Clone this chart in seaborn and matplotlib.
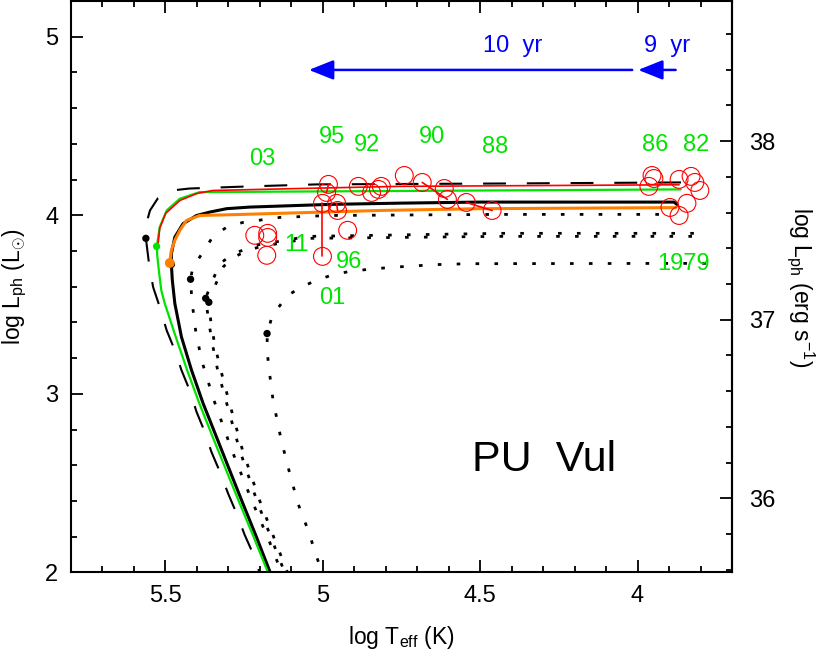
import seaborn as sns
import matplotlib.pyplot as plt
from matplotlib.ticker import MultipleLocator

# ---- data (log Teff, log L in Lsun) ----
# long-dashed model track
dash_T = [3.862, 4.439, 5.020, 5.232, 5.423, 5.480, 5.524, 5.549, 5.562, 5.562,
          5.552, 5.539, 5.518, 5.496, 5.470, 5.449, 5.423, 5.401, 5.375, 5.354,
          5.327, 5.301, 5.274, 5.248, 5.222, 5.201]
dash_L = [4.184, 4.178, 4.173, 4.162, 4.150, 4.139, 4.095, 4.027, 3.944, 3.871,
          3.729, 3.598, 3.487, 3.356, 3.244, 3.133, 3.021, 2.899, 2.787, 2.676,
          2.564, 2.443, 2.331, 2.210, 2.107, 2.000]

# green model track
green_T = [3.863, 5.391, 5.454, 5.496, 5.518, 5.527, 5.526, 5.519, 5.513, 5.502,
           5.467, 5.431, 5.392, 5.350, 5.307, 5.264, 5.220, 5.174]
green_L = [4.145, 4.130, 4.093, 4.027, 3.934, 3.830, 3.776, 3.664, 3.580, 3.506,
           3.319, 3.133, 2.946, 2.760, 2.573, 2.387, 2.200, 2.000]

# black solid model track
black_T = [3.875, 3.884, 4.503, 4.757, 4.979, 5.232, 5.306, 5.359, 5.401, 5.444,
           5.470, 5.481, 5.481, 5.478, 5.470, 5.449, 5.417, 5.380, 5.338, 5.296,
           5.254, 5.211, 5.167]
black_L = [4.061, 4.074, 4.074, 4.068, 4.061, 4.046, 4.037, 4.018, 3.999, 3.953,
           3.878, 3.785, 3.725, 3.636, 3.506, 3.319, 3.133, 2.946, 2.760, 2.573,
           2.387, 2.200, 2.000]

# orange track
orange_T = [3.879, 4.503, 4.820, 5.296, 5.391, 5.433, 5.454, 5.470, 5.481, 5.486]
orange_L = [4.043, 4.037, 4.027, 4.003, 3.999, 3.971, 3.916, 3.860, 3.804, 3.733]

# red track
red_T = [3.868, 4.757, 5.074, 5.350, 5.400, 5.454, 5.499, 5.518, 5.524]
red_L = [4.171, 4.162, 4.150, 4.139, 4.122, 4.083, 4.011, 3.927, 3.826]

# dotted model tracks
dot1_T = [3.932, 4.439, 4.979, 5.137, 5.254, 5.305, 5.350, 5.391, 5.413, 5.420,
          5.416, 5.404, 5.385, 5.346, 5.289, 5.226, 5.169, 5.131]
dot1_L = [4.005, 4.005, 3.999, 3.988, 3.960, 3.934, 3.878, 3.766, 3.710, 3.642,
          3.524, 3.356, 3.188, 2.965, 2.685, 2.405, 2.171, 2.000]

dot2_T = [3.821, 4.439, 5.042, 5.083, 5.137, 5.191, 5.239, 5.280, 5.327, 5.359,
          5.372, 5.365, 5.353, 5.334, 5.308, 5.264, 5.210, 5.159, 5.121]
dot2_L = [3.899, 3.899, 3.882, 3.871, 3.854, 3.843, 3.815, 3.787, 3.731, 3.597,
          3.535, 3.440, 3.300, 3.133, 2.965, 2.685, 2.405, 2.171, 2.000]

dot3_T = [3.827, 4.439, 5.042, 5.137, 5.194, 5.239, 5.277, 5.315, 5.346, 5.362,
          5.356, 5.343, 5.324, 5.299, 5.255, 5.201, 5.150, 5.112]
dot3_L = [3.882, 3.882, 3.871, 3.843, 3.826, 3.804, 3.770, 3.714, 3.591, 3.513,
          3.412, 3.272, 3.133, 2.965, 2.685, 2.405, 2.171, 2.000]

dot4_T = [3.783, 4.535, 4.640, 4.735, 4.836, 4.915, 4.973, 5.021, 5.068, 5.111,
          5.148, 5.163, 5.177, 5.176, 5.169, 5.158, 5.132, 5.105, 5.079, 5.047,
          5.016, 5.002]
dot4_L = [3.731, 3.729, 3.724, 3.714, 3.701, 3.686, 3.664, 3.636, 3.598, 3.552,
          3.468, 3.422, 3.338, 3.226, 3.114, 2.965, 2.741, 2.555, 2.387, 2.238,
          2.070, 2.000]

# end points of the tracks
end_T = [5.562, 5.420, 5.372, 5.362, 5.177, 5.481]
end_L = [3.871, 3.642, 3.535, 3.513, 3.338, 3.725]
green_end = (5.528, 3.826)
orange_end = (5.486, 3.733)

# observed positions (open red circles)
obs_T = [4.982, 4.988, 5.001, 4.956, 4.953, 5.001, 4.921, 4.887, 4.845, 4.823,
         4.814, 4.741, 4.684, 4.614, 4.604, 4.544, 4.462, 5.216, 5.175, 5.175,
         5.178, 3.954, 3.948, 3.964, 3.868, 3.830, 3.818, 3.802, 3.843, 3.897,
         3.868]
obs_L = [4.173, 4.128, 4.067, 4.067, 4.027, 3.770, 3.916, 4.162, 4.128, 4.145,
         4.162, 4.223, 4.184, 4.150, 4.089, 4.072, 4.027, 3.888, 3.899, 3.876,
         3.776, 4.223, 4.206, 4.162, 4.201, 4.218, 4.184, 4.139, 4.067, 4.044,
         3.999]
# pairs of observations joined by a red line
obs_pairs = [(0, 1), (3, 4), (2, 5), (12, 14), (15, 16)]

# year labels
year_text = ['03', '95', '92', '90', '88', '86', '82', '11', '96', '01', '1979']
year_T = [5.191, 4.972, 4.861, 4.652, 4.452, 3.945, 3.815, 5.083, 4.915, 4.969, 3.853]
year_L = [4.318, 4.441, 4.391, 4.441, 4.385, 4.391, 4.391, 3.832, 3.737, 3.535, 3.725]

# time arrows
arrow_tail = [4.017, 3.879]
arrow_head = [5.044, 3.998]
arrow_L = 4.814
arrow_text = ['10  yr', '9  yr']
arrow_text_T = [4.398, 3.905]
arrow_text_L = 4.950

LSUN_ERG = 33.585

sns.set_style('ticks', {'axes.edgecolor': 'black', 'text.color': 'black',
                        'axes.labelcolor': 'black', 'xtick.color': 'black',
                        'ytick.color': 'black'})
plt.rcParams['font.family'] = ['Liberation Sans', 'DejaVu Sans']
plt.rcParams['mathtext.fontset'] = 'custom'
plt.rcParams['mathtext.rm'] = 'Liberation Sans'
plt.rcParams['mathtext.it'] = 'Liberation Sans'

fig = plt.figure(figsize=(8.3, 6.6), dpi=100)
ax = fig.add_axes([0.0855, 0.1326, 0.7964, 0.8659])

dotted = (0, (1.3, 5.5))
GREEN = '#00e400'

sns.lineplot(x=dash_T, y=dash_L, sort=False, estimator=None, color='black',
             linewidth=1.5, linestyle=(0, (11, 10)), ax=ax)
for tx, ly in [(dot1_T, dot1_L), (dot2_T, dot2_L), (dot3_T, dot3_L), (dot4_T, dot4_L)]:
    sns.lineplot(x=tx, y=ly, sort=False, estimator=None, color='black',
                 linewidth=2.0, linestyle=dotted, ax=ax)
sns.lineplot(x=black_T, y=black_L, sort=False, estimator=None, color='black',
             linewidth=2.2, ax=ax)
sns.lineplot(x=green_T, y=green_L, sort=False, estimator=None, color=GREEN,
             linewidth=1.6, ax=ax)
sns.lineplot(x=orange_T, y=orange_L, sort=False, estimator=None, color='#ff8000',
             linewidth=2.2, ax=ax)
sns.lineplot(x=red_T, y=red_L, sort=False, estimator=None, color='red',
             linewidth=1.2, ax=ax)

# filled end points
sns.scatterplot(x=end_T, y=end_L, color='black', s=28, edgecolor='none', ax=ax, zorder=5)
sns.scatterplot(x=[green_end[0]], y=[green_end[1]], color=GREEN, s=28,
                edgecolor='none', ax=ax, zorder=5)
sns.scatterplot(x=[orange_end[0]], y=[orange_end[1]], color='#ff8000', s=50,
                edgecolor='none', ax=ax, zorder=5)

# observations
for i, j in obs_pairs:
    sns.lineplot(x=[obs_T[i], obs_T[j]], y=[obs_L[i], obs_L[j]], sort=False,
                 estimator=None, color='red', linewidth=1.2, ax=ax)
sns.scatterplot(x=obs_T, y=obs_L, marker='o', s=165, facecolor='none',
                edgecolor='red', linewidth=0.8, ax=ax, zorder=6)

for t, x, y in zip(year_text, year_T, year_L):
    ax.text(x, y, t, color=GREEN, fontsize=17, ha='center', va='center', zorder=7)

for t0, t1 in zip(arrow_tail, arrow_head):
    ax.annotate('', xy=(t1, arrow_L), xytext=(t0, arrow_L),
                arrowprops=dict(arrowstyle='-|>,head_length=0.75,head_width=0.3',
                                color='blue', lw=1.8, mutation_scale=20,
                                shrinkA=0, shrinkB=0))
for t, x in zip(arrow_text, arrow_text_T):
    ax.text(x, arrow_text_L, t, color='blue', fontsize=17, ha='center', va='center')

ax.text(4.297, 2.629, 'PU  Vul', fontsize=31, ha='center', va='center')

ax.set_xlim(5.8, 3.7)
ax.set_ylim(2, 5.2)
ax.xaxis.set_minor_locator(MultipleLocator(0.1))
ax.yaxis.set_minor_locator(MultipleLocator(0.2))
ax.set_xticks([5.5, 5, 4.5, 4])
ax.set_xticklabels(['5.5', '5', '4.5', '4'])
ax.set_yticks([2, 3, 4, 5])
ax.set_yticklabels(['2', '3', '4', '5'])
ax.tick_params(which='both', direction='in', top=True, right=False, width=1.3,
               labelsize=17, pad=9)
ax.tick_params(which='major', length=8.5)
ax.tick_params(which='minor', length=4.5)
for sp in ax.spines.values():
    sp.set_linewidth(1.5)

sec = ax.secondary_yaxis('right', functions=(lambda y: y + LSUN_ERG,
                                             lambda y: y - LSUN_ERG))
sec.set_yticks([36, 37, 38])
sec.set_yticklabels(['36', '37', '38'])
sec.yaxis.set_minor_locator(MultipleLocator(0.2))
sec.tick_params(which='both', direction='in', width=1.3, labelsize=17, pad=12)
sec.tick_params(which='major', length=8.5)
sec.tick_params(which='minor', length=4.5)
sec.spines['right'].set_linewidth(1.5)
sec.set_ylabel(r'log L$_{\rm ph}$ (erg s$^{-1}$)', fontsize=16.5, rotation=-90,
               labelpad=30)

ax.set_xlabel(r'log T$_{\rm eff}$ (K)', fontsize=16.5, labelpad=12)
ax.set_ylabel(r'log L$_{\rm ph}$ (L$_{\odot}$)', fontsize=16.5, labelpad=12)

fig.savefig('out.png', dpi=100)
